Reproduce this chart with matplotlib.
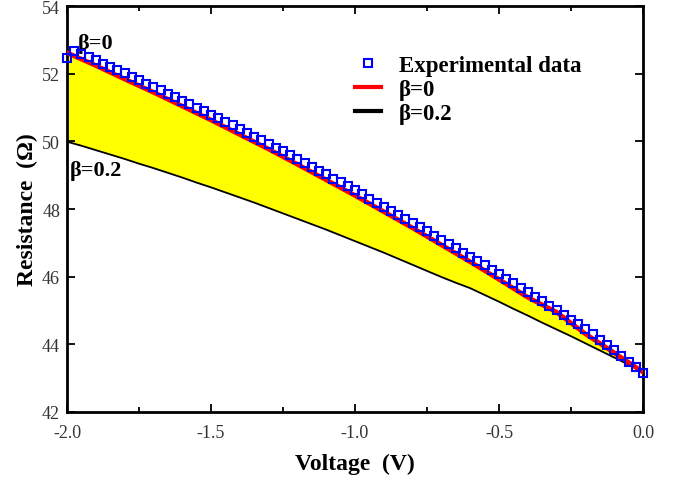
import numpy as np
import matplotlib
matplotlib.use('Agg')
import matplotlib.pyplot as plt
from matplotlib.lines import Line2D

# experimental points, every 0.025 V from -2.0 to 0.0
v_exp = np.round(np.arange(-2.0, 0.0001, 0.025), 3)
r_exp = [52.47, 52.68, 52.58, 52.49, 52.39, 52.30, 52.20, 52.10, 52.01, 51.91,
         51.81, 51.71, 51.61, 51.51, 51.41, 51.31, 51.20, 51.10, 51.00, 50.89,
         50.79, 50.68, 50.57, 50.47, 50.36, 50.25, 50.14, 50.03, 49.92, 49.81,
         49.70, 49.59, 49.47, 49.36, 49.25, 49.13, 49.02, 48.90, 48.79, 48.67,
         48.55, 48.43, 48.31, 48.19, 48.07, 47.95, 47.83, 47.71, 47.59, 47.46,
         47.34, 47.21, 47.09, 46.96, 46.84, 46.71, 46.58, 46.45, 46.33, 46.20,
         46.07, 45.93, 45.80, 45.67, 45.54, 45.41, 45.27, 45.14, 45.00, 44.87,
         44.73, 44.59, 44.45, 44.30, 44.14, 43.98, 43.82, 43.66, 43.49, 43.34,
         43.15]

# model beta = 0
v_b0 = [-2.0, -1.9, -1.8, -1.7, -1.6, -1.5, -1.4, -1.3, -1.2, -1.1, -1.0,
        -0.9, -0.8, -0.7, -0.6, -0.5, -0.4, -0.3, -0.2, -0.1, 0.0]
r_b0 = [52.62, 52.24, 51.84, 51.45, 51.04, 50.63, 50.20, 49.77, 49.32, 48.86, 48.40,
        47.92, 47.44, 46.94, 46.44, 45.92, 45.39, 44.95, 44.31, 43.75, 43.18]

# model beta = 0.2
v_b2 = [-2.0, -1.95, -1.9, -1.85, -1.8, -1.75, -1.7, -1.65, -1.6, -1.55, -1.5,
        -1.45, -1.4, -1.35, -1.3, -1.25, -1.2, -1.15, -1.1, -1.05, -1.0,
        -0.95, -0.9, -0.85, -0.8, -0.75, -0.7, -0.65, -0.6, -0.55, -0.5,
        -0.45, -0.4, -0.35, -0.3, -0.25, -0.2, -0.15, -0.1, -0.05, 0.0]
r_b2 = [49.99, 49.87, 49.74, 49.61, 49.48, 49.34, 49.21, 49.07, 48.93, 48.78, 48.64,
        48.49, 48.34, 48.19, 48.03, 47.87, 47.71, 47.55, 47.39, 47.22, 47.05,
        46.88, 46.71, 46.53, 46.35, 46.17, 45.99, 45.82, 45.66, 45.46, 45.26,
        45.05, 44.85, 44.64, 44.44, 44.24, 44.03, 43.82, 43.61, 43.40, 43.18]

plt.rcParams['font.family'] = 'Liberation Serif'

fig = plt.figure(figsize=(6.84, 4.85), dpi=100)
ax = fig.add_axes([0.098, 0.1485, 0.842, 0.837])

# shaded band between the two model curves
ax.fill(np.concatenate([v_b0, v_b2[::-1]]), np.concatenate([r_b0, r_b2[::-1]]),
        color='#ffff00', lw=0, zorder=1)
ax.plot(v_b2, r_b2, color='black', lw=1.3, zorder=2)
ax.plot(v_b0, r_b0, color='#ff0000', lw=3.4, zorder=3)
ax.plot(v_exp, r_exp, ls='none', marker='s', ms=5.8, mfc='none', mec='#0000ff',
        mew=1.5, zorder=4, clip_on=False)

ax.set_xlim(-2.0, 0.0)
ax.set_ylim(42, 54)
ax.set_xticks([-2.0, -1.5, -1.0, -0.5, 0.0])
ax.set_xticklabels(['-2.0', '-1.5', '-1.0', '-0.5', '0.0'])
ax.set_xticks([-1.75, -1.25, -0.75, -0.25], minor=True)
ax.set_yticks([42, 44, 46, 48, 50, 52, 54])
ax.tick_params(which='both', direction='in', top=True, right=True,
               labelsize=13, labelcolor='#333333', width=1.3)
ax.tick_params(which='major', length=6)
ax.tick_params(which='minor', length=3.5)
ax.tick_params(axis='x', which='major', pad=9)
ax.tick_params(axis='y', which='major', pad=5)
for s in ax.spines.values():
    s.set_linewidth(2.0)

ax.set_xlabel('Voltage  (V)', fontsize=17, fontweight='bold', labelpad=8)
ax.set_ylabel('Resistance  (\u03a9)', fontsize=17, fontweight='bold', labelpad=3)

ax.text(-1.962, 52.92, '\u03b2=0', fontsize=16, fontweight='bold', va='center')
ax.text(-1.99, 49.14, '\u03b2=0.2', fontsize=16, fontweight='bold', va='center')

handles = [
    Line2D([], [], ls='none', marker='s', ms=5.8, mfc='none', mec='#0000ff', mew=1.5),
    Line2D([], [], color='#ff0000', lw=3),
    Line2D([], [], color='black', lw=3),
]
ax.legend(handles, ['Experimental data', '\u03b2=0', '\u03b2=0.2'],
          loc='upper left', bbox_to_anchor=(0.465, 0.93), frameon=False,
          prop={'size': 16.5, 'weight': 'bold'}, handlelength=1.1,
          handletextpad=0.8, labelspacing=0.12)

fig.savefig('out.png', dpi=100)
